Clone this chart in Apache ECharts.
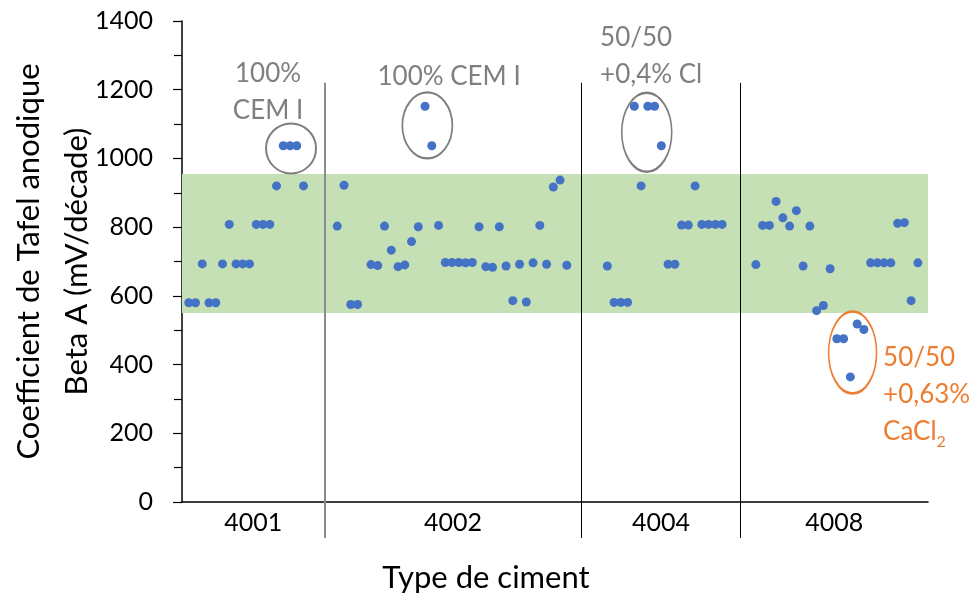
<!DOCTYPE html>
<html>
<head>
<meta charset="utf-8">
<script src="https://cdn.jsdelivr.net/npm/echarts@6/dist/echarts.min.js"></script>
<style>
  html, body { margin: 0; padding: 0; background: #fff; }
  #chart { width: 976px; height: 596px; }
</style>
</head>
<body>
<div id="chart"></div>
<script>
// cement types and where each group's samples start on the index axis
const groups = ['4001', '4002', '4004', '4008'];
const groupStart = [1, 23, 63, 85];
// Beta A values per sample (mV/décade), null = no measurement
const beta4001 = [580, 580, 693, 580, 580, 693, 808, 693, 693, 693, 808, 808, 808, 920, 1037, 1037, 1037, 920];
const beta4002 = [803, 922, 575, 575, null, 691, 688, 803, 733, 685, 690, 758, 801, 1152, 1037, 805, 697, 697, 697, 696,
  697, 801, 685, 683, 801, 687, 586, 692, 582, 696, 805, 692, 917, 937, 689];
const beta4004 = [687, 581, 581, 581, 1152, 920, 1152, 1152, 1037, 692, 692, 806, 806, 920, 808, 808, 808, 808];
const beta4008 = [691, 805, 805, 875, 827, 803, 848, 687, 803, 557, 572, 679, 475, 475, 364, 518, 502, 696, 696, 696,
  696, 811, 813, 586, 696];
// group separators on the index axis, and the axis end
const groupEdges = [21.1, 59.2, 82.7];
const xMax = 110.5;
// usual range band
const bandLow = 550;
const bandHigh = 955;
const yTicks = [0, 200, 400, 600, 800, 1000, 1200, 1400];

const allBeta = [beta4001, beta4002, beta4004, beta4008];
const points = [];
allBeta.forEach((arr, g) => {
  arr.forEach((v, i) => {
    if (v != null) points.push([groupStart[g] + i, v]);
  });
});

const edgesFull = [0].concat(groupEdges, [xMax]);
const groupCenters = groups.map((g, i) => (edgesFull[i] + edgesFull[i + 1]) / 2);

const FONT = 'Lato';
const GRAY = '#7f7f7f';
const ORANGE = '#ed7d31';

// circled groups: centre in data units, size in px
const rings = [
  { at: [16.15, 1029], size: [50, 50], color: GRAY },
  { at: [36.34, 1096], size: [50, 66], color: GRAY },
  { at: [68.84, 1076], size: [50, 79], color: GRAY },
  { at: [99.33, 435], size: [48, 82], color: ORANGE }
];
// annotation texts
const notes = [
  { at: [12.74, 1193], text: '100%\nCEM I', color: GRAY, left: false },
  { at: [39.56, 1237], text: '100% CEM I', color: GRAY, left: false },
  { at: [61.93, 1298], text: '50/50\n+0,4% Cl', color: GRAY, left: true },
  { at: [103.85, 313], text: '50/50\n+0,63%\n{a|CaCl}{sub|2}', color: ORANGE, left: true }
];

const chart = echarts.init(document.getElementById('chart'));

const option = {
  animation: false,
  backgroundColor: '#fff',
  textStyle: { fontFamily: FONT },
  grid: { left: 182, right: 48, top: 21, bottom: 94, containLabel: false, outerBoundsMode: 'none' },
  xAxis: [{
    type: 'value',
    min: 0,
    max: xMax,
    name: 'Type de ciment',
    nameLocation: 'middle',
    nameGap: 60,
    nameMoveOverlap: false,
    nameTextStyle: { fontFamily: FONT, fontSize: 31, color: '#000', padding: [0, 138, 0, 0] },
    axisLine: { lineStyle: { color: '#000', width: 1.5 } },
    splitLine: { show: false },
    axisTick: {
      show: true,
      customValues: groupEdges.slice(1),
      length: 36,
      lineStyle: { color: '#000', width: 1 }
    },
    axisLabel: {
      customValues: groupCenters,
      margin: 8,
      fontFamily: FONT,
      fontSize: 25,
      color: '#000',
      formatter: function (v) {
        let best = 0;
        groupCenters.forEach((c, i) => { if (Math.abs(c - v) < Math.abs(groupCenters[best] - v)) best = i; });
        return groups[best];
      }
    }
  }, {
    type: 'value',
    min: 0,
    max: xMax,
    position: 'bottom',
    axisLine: { show: false },
    splitLine: { show: false },
    axisLabel: { show: false },
    axisTick: {
      show: true,
      customValues: groupEdges.slice(0, 1),
      length: 36,
      lineStyle: { color: '#8c8c8c', width: 2 }
    }
  }],
  yAxis: {
    type: 'value',
    min: yTicks[0],
    max: yTicks[yTicks.length - 1],
    interval: 200,
    name: 'Coefficient de Tafel anodique\nBeta A (mV/décade)',
    nameLocation: 'middle',
    nameRotate: 90,
    nameGap: 81,
    nameMoveOverlap: false,
    nameTextStyle: { fontFamily: FONT, fontSize: 31, color: '#000', lineHeight: 48 },
    axisLine: { show: true, lineStyle: { color: '#000', width: 1.5 } },
    axisTick: { show: true, length: 9, lineStyle: { color: '#000', width: 1.2 } },
    minorTick: { show: true, splitNumber: 2, length: 8, lineStyle: { color: '#000', width: 1.2 } },
    splitLine: { show: false },
    axisLabel: {
      margin: 29, fontFamily: FONT, fontSize: 25, color: '#000',
      formatter: v => String(v)
    }
  },
  series: [
    {
      // band + group separators
      type: 'scatter',
      data: [],
      z: 1,
      silent: true,
      markArea: {
        silent: true,
        itemStyle: { color: '#c5e0b4', opacity: 1 },
        data: [[{ coord: [0, bandLow] }, { coord: [xMax, bandHigh] }]]
      },
      markLine: {
        silent: true,
        symbol: 'none',
        label: { show: false },
        data: groupEdges.map((e, i) => [
          { coord: [e, 0], lineStyle: { color: i === 0 ? '#8c8c8c' : '#000', width: i === 0 ? 2 : 1, type: 'solid', opacity: 1 } },
          { coord: [e, 1220] }
        ])
      }
    },
    {
      name: 'Beta A',
      type: 'scatter',
      data: points,
      symbol: 'circle',
      symbolSize: 9,
      z: 3,
      itemStyle: { color: '#4472c4', opacity: 1 }
    },
    {
      type: 'scatter',
      z: 4,
      silent: true,
      data: rings.map(r => ({
        value: r.at,
        symbolSize: r.size,
        itemStyle: { color: 'rgba(0,0,0,0)', borderColor: r.color, borderWidth: 2, opacity: 1 }
      }))
    },
    {
      type: 'scatter',
      z: 4,
      silent: true,
      symbolSize: 0,
      itemStyle: { opacity: 1 },
      data: notes.map(n => ({
        value: n.at,
        label: {
          show: true,
          position: n.left ? 'right' : 'inside',
          distance: 0,
          align: n.left ? 'left' : 'center',
          formatter: n.text,
          fontFamily: FONT,
          fontSize: 26,
          lineHeight: 37,
          color: n.color,
          opacity: 1,
          rich: {
            a: { fontFamily: FONT, fontSize: 26, lineHeight: 37, color: n.color },
            sub: { fontFamily: FONT, fontSize: 16, lineHeight: 20, color: n.color, verticalAlign: 'bottom' }
          }
        }
      }))
    }
  ]
};

chart.setOption(option);
</script>
</body>
</html>
